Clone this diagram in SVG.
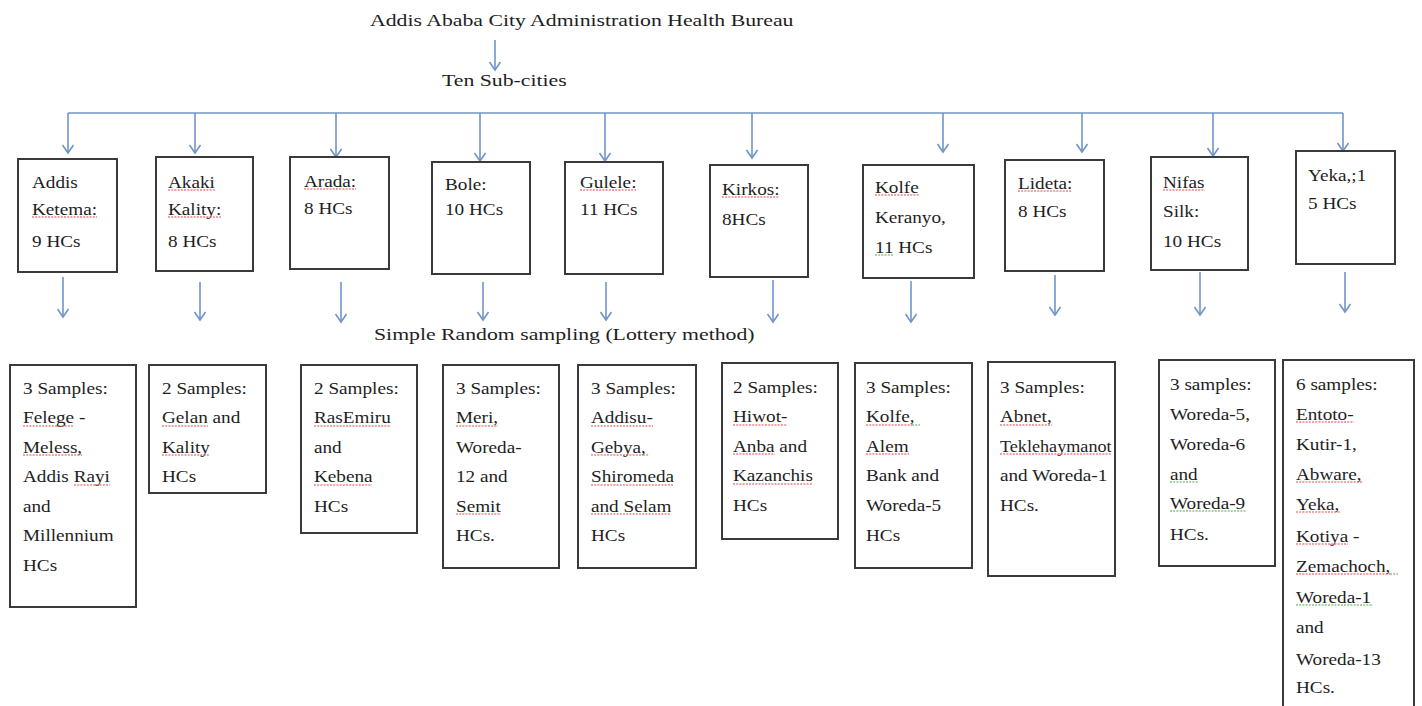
<svg xmlns="http://www.w3.org/2000/svg" width="1422" height="706" viewBox="0 0 1422 706">
<style>
.bg{fill:#ffffff}
.box{fill:#ffffff;stroke:#3a3a3a;stroke-width:2}
.t{font-family:"Liberation Serif","Times New Roman",serif;font-size:16px;fill:#1e1e1e}
.h{font-family:"Liberation Serif","Times New Roman",serif;font-size:17px;fill:#1e1e1e}
.ln{fill:none;stroke:#7195c8;stroke-width:1.6}
.arr{fill:none;stroke:#7195c8;stroke-width:1.6;marker-end:url(#ah)}
.sq{fill:none;stroke:#e04848;stroke-width:1.2;stroke-dasharray:2 1.2}
.sg{fill:none;stroke:#4aa84a;stroke-width:1.2;stroke-dasharray:2 1.2}
</style>
<defs>
<marker id="ah" markerUnits="userSpaceOnUse" markerWidth="14" markerHeight="14" viewBox="0 0 14 14" refX="10" refY="7" orient="auto">
<path d="M2,1.5 L10,7 L2,12.5" fill="none" stroke="#7195c8" stroke-width="1.6"/>
</marker>
</defs>
<rect class="bg" x="0" y="0" width="1422" height="706"/>

<g id="title">
<text class="h" transform="translate(370,26) scale(1.28,1)">Addis Ababa City Administration Health Bureau</text>
</g>
<g id="subcities">
<text class="h" transform="translate(442,86) scale(1.28,1)">Ten Sub-cities</text>
</g>
<g id="method">
<text class="h" transform="translate(374,340) scale(1.28,1)">Simple Random sampling (Lottery method)</text>
</g>

<g id="connectors">
<path class="arr" d="M495,40 V70"/>
<path class="ln" d="M68,113 H1343"/>
<path class="arr" d="M68,113 V153"/>
<path class="arr" d="M195,113 V153"/>
<path class="arr" d="M336,113 V157"/>
<path class="arr" d="M480,113 V161"/>
<path class="arr" d="M605,113 V161"/>
<path class="arr" d="M752,113 V158"/>
<path class="arr" d="M943,113 V152"/>
<path class="arr" d="M1082,113 V152"/>
<path class="arr" d="M1213,113 V156"/>
<path class="arr" d="M1343,113 V151"/>
<path class="arr" d="M63,277 V317"/>
<path class="arr" d="M200,282 V320"/>
<path class="arr" d="M341,282 V322"/>
<path class="arr" d="M483,282 V320"/>
<path class="arr" d="M606,282 V320"/>
<path class="arr" d="M773,280 V322"/>
<path class="arr" d="M911,281 V322"/>
<path class="arr" d="M1055,275 V315"/>
<path class="arr" d="M1200,272 V315"/>
<path class="arr" d="M1345,272 V312"/>
</g>

<g id="sc-addis-ketema">
<rect class="box" x="18" y="159" width="99" height="113"/>
<text class="t" transform="translate(32,188) scale(1.2,1)"><tspan x="0" y="0">Addis</tspan><tspan x="0" y="27">Ketema:</tspan><tspan x="0" y="59">9 HCs</tspan></text>
<path class="sq" d="M32,217 h65"/>
</g>
<g id="sc-akaki-kality">
<rect class="box" x="156" y="157" width="97" height="114"/>
<text class="t" transform="translate(168,188) scale(1.2,1)"><tspan x="0" y="0">Akaki</tspan><tspan x="0" y="27">Kality:</tspan><tspan x="0" y="59">8 HCs</tspan></text>
<path class="sq" d="M168,190 h47 M168,217 h53"/>
</g>
<g id="sc-arada">
<rect class="box" x="290" y="157" width="99" height="112"/>
<text class="t" transform="translate(304,187) scale(1.2,1)"><tspan x="0" y="0">Arada:</tspan><tspan x="0" y="27">8 HCs</tspan></text>
<path class="sq" d="M304,189 h52"/>
</g>
<g id="sc-bole">
<rect class="box" x="432" y="162" width="98" height="112"/>
<text class="t" transform="translate(445,190) scale(1.2,1)"><tspan x="0" y="0">Bole:</tspan><tspan x="0" y="25">10 HCs</tspan></text>
</g>
<g id="sc-gulele">
<rect class="box" x="565" y="162" width="98" height="112"/>
<text class="t" transform="translate(580,188) scale(1.2,1)"><tspan x="0" y="0">Gulele:</tspan><tspan x="0" y="27">11 HCs</tspan></text>
<path class="sq" d="M580,190 h56"/>
</g>
<g id="sc-kirkos">
<rect class="box" x="710" y="165" width="98" height="112"/>
<text class="t" transform="translate(722,195) scale(1.2,1)"><tspan x="0" y="0">Kirkos:</tspan><tspan x="0" y="30">8HCs</tspan></text>
<path class="sq" d="M722,197 h57"/>
</g>
<g id="sc-kolfe-keranyo">
<rect class="box" x="863" y="165" width="111" height="113"/>
<text class="t" transform="translate(875,193) scale(1.2,1)"><tspan x="0" y="0">Kolfe</tspan><tspan x="0" y="30">Keranyo,</tspan><tspan x="0" y="60">11 HCs</tspan></text>
<path class="sq" d="M875,195 h44"/>
<path class="sg" d="M875,255 h19"/>
</g>
<g id="sc-lideta">
<rect class="box" x="1005" y="160" width="99" height="111"/>
<text class="t" transform="translate(1018,189) scale(1.2,1)"><tspan x="0" y="0">Lideta:</tspan><tspan x="0" y="28">8 HCs</tspan></text>
<path class="sq" d="M1018,191 h54"/>
</g>
<g id="sc-nifas-silk">
<rect class="box" x="1151" y="157" width="97" height="113"/>
<text class="t" transform="translate(1163,188) scale(1.2,1)"><tspan x="0" y="0">Nifas</tspan><tspan x="0" y="29">Silk:</tspan><tspan x="0" y="59">10 HCs</tspan></text>
<path class="sq" d="M1163,190 h42"/>
</g>
<g id="sc-yeka">
<rect class="box" x="1296" y="151" width="99" height="113"/>
<text class="t" transform="translate(1308,181) scale(1.2,1)"><tspan x="0" y="0">Yeka,;1</tspan><tspan x="0" y="28">5 HCs</tspan></text>
</g>

<g id="s-addis-ketema">
<rect class="box" x="10" y="365" width="126" height="242"/>
<text class="t" transform="translate(23,394) scale(1.2,1)"><tspan x="0" y="0">3 Samples:</tspan><tspan x="0" y="29.5">Felege -</tspan><tspan x="0" y="59">Meless,</tspan><tspan x="0" y="88.5">Addis Rayi</tspan><tspan x="0" y="118">and</tspan><tspan x="0" y="147.5">Millennium</tspan><tspan x="0" y="177">HCs</tspan></text>
<path class="sq" d="M23,426 h51 M23,455 h59 M74,485 h36"/>
</g>
<g id="s-akaki-kality">
<rect class="box" x="149" y="365" width="117" height="128"/>
<text class="t" transform="translate(162,394) scale(1.2,1)"><tspan x="0" y="0">2 Samples:</tspan><tspan x="0" y="29.5">Gelan and</tspan><tspan x="0" y="59">Kality</tspan><tspan x="0" y="88.5">HCs</tspan></text>
<path class="sq" d="M162,426 h46 M162,455 h48"/>
</g>
<g id="s-arada">
<rect class="box" x="301" y="365" width="116" height="168"/>
<text class="t" transform="translate(314,394) scale(1.2,1)"><tspan x="0" y="0">2 Samples:</tspan><tspan x="0" y="29.5">RasEmiru</tspan><tspan x="0" y="59">and</tspan><tspan x="0" y="88.5">Kebena</tspan><tspan x="0" y="118">HCs</tspan></text>
<path class="sq" d="M314,426 h77 M314,485 h58"/>
</g>
<g id="s-bole">
<rect class="box" x="443" y="365" width="116" height="203"/>
<text class="t" transform="translate(456,394) scale(1.2,1)"><tspan x="0" y="0">3 Samples:</tspan><tspan x="0" y="29.5">Meri,</tspan><tspan x="0" y="59">Woreda-</tspan><tspan x="0" y="88.5">12 and</tspan><tspan x="0" y="118">Semit</tspan><tspan x="0" y="147.5">HCs.</tspan></text>
<path class="sq" d="M456,426 h42 M456,514 h45"/>
</g>
<g id="s-gulele">
<rect class="box" x="578" y="365" width="118" height="203"/>
<text class="t" transform="translate(591,394) scale(1.2,1)"><tspan x="0" y="0">3 Samples:</tspan><tspan x="0" y="29.5">Addisu-</tspan><tspan x="0" y="59">Gebya,</tspan><tspan x="0" y="88.5">Shiromeda</tspan><tspan x="0" y="118">and Selam</tspan><tspan x="0" y="147.5">HCs</tspan></text>
<path class="sq" d="M591,426 h62 M591,455 h52 M591,485 h83 M591,514 h80"/>
<path class="sg" d="M643,455 h6"/>
</g>
<g id="s-kirkos">
<rect class="box" x="722" y="363" width="116" height="176"/>
<text class="t" transform="translate(733,393) scale(1.2,1)"><tspan x="0" y="0">2 Samples:</tspan><tspan x="0" y="29.5">Hiwot-</tspan><tspan x="0" y="59">Anba and</tspan><tspan x="0" y="88.5">Kazanchis</tspan><tspan x="0" y="118">HCs</tspan></text>
<path class="sq" d="M733,425 h54 M733,454 h42 M733,484 h80"/>
</g>
<g id="s-kolfe-keranyo">
<rect class="box" x="855" y="363" width="117" height="205"/>
<text class="t" transform="translate(866,393) scale(1.2,1)"><tspan x="0" y="0">3 Samples:</tspan><tspan x="0" y="29.5">Kolfe,</tspan><tspan x="0" y="59">Alem</tspan><tspan x="0" y="88.5">Bank and</tspan><tspan x="0" y="118">Woreda-5</tspan><tspan x="0" y="148">HCs</tspan></text>
<path class="sq" d="M866,425 h46 M866,454 h43"/>
<path class="sg" d="M912,425 h8"/>
</g>
<g id="s-lideta">
<rect class="box" x="988" y="362" width="127" height="214"/>
<text class="t" transform="translate(1000,393) scale(1.2,1)"><tspan x="0" y="0">3 Samples:</tspan><tspan x="0" y="29.5">Abnet,</tspan><tspan x="0" y="59" textLength="93" lengthAdjust="spacingAndGlyphs">Teklehaymanot</tspan><tspan x="0" y="88.5">and Woreda-1</tspan><tspan x="0" y="118">HCs.</tspan></text>
<path class="sq" d="M1000,425 h52 M1000,454 h112"/>
</g>
<g id="s-nifas-silk">
<rect class="box" x="1159" y="360" width="116" height="206"/>
<text class="t" transform="translate(1170,390) scale(1.2,1)"><tspan x="0" y="0">3 samples:</tspan><tspan x="0" y="30">Woreda-5,</tspan><tspan x="0" y="60">Woreda-6</tspan><tspan x="0" y="90">and</tspan><tspan x="0" y="119">Woreda-9</tspan><tspan x="0" y="150">HCs.</tspan></text>
<path class="sg" d="M1170,482 h28 M1170,511 h77"/>
</g>
<g id="s-yeka">
<rect class="box" x="1283" y="360" width="131" height="360"/>
<text class="t" transform="translate(1296,390) scale(1.2,1)"><tspan x="0" y="0">6 samples:</tspan><tspan x="0" y="30">Entoto-</tspan><tspan x="0" y="60">Kutir-1,</tspan><tspan x="0" y="90">Abware,</tspan><tspan x="0" y="120">Yeka,</tspan><tspan x="0" y="152">Kotiya -</tspan><tspan x="0" y="182">Zemachoch,</tspan><tspan x="0" y="213">Woreda-1</tspan><tspan x="0" y="243">and</tspan><tspan x="0" y="275">Woreda-13</tspan><tspan x="0" y="303">HCs.</tspan></text>
<path class="sq" d="M1296,422 h58 M1296,482 h66 M1296,512 h45 M1296,544 h52 M1296,574 h94"/>
<path class="sg" d="M1390,574 h8 M1296,605 h77"/>
</g>
</svg>
